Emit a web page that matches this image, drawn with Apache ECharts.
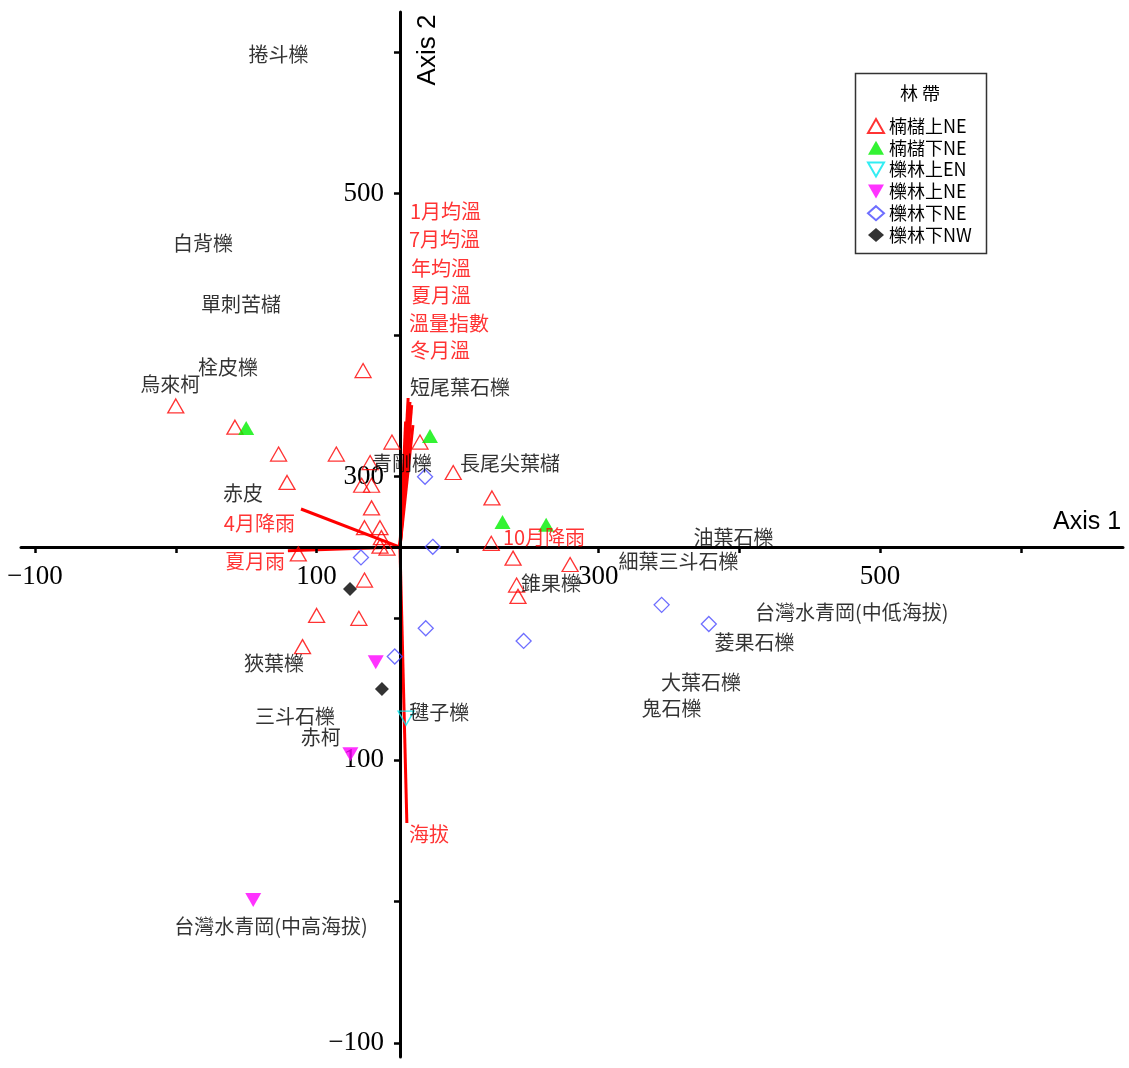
<!DOCTYPE html>
<html>
<head>
<meta charset="utf-8">
<script src="https://cdn.jsdelivr.net/npm/echarts@6/dist/echarts.min.js"></script>
<style>
  html, body { margin: 0; padding: 0; background: #fff; }
  #chart { width: 1129px; height: 1068px; }
</style>
</head>
<body>
<div id="chart"></div>
<script>
// ---- Axes ----
const xRange = [-109.9, 672.6];
const yRange = [-109.9, 628.3];
const xTicks = [-100, 0, 100, 200, 300, 400, 500, 600];
const xTickLabels = [-100, 100, 300, 500];
const yTicks = [-100, 0, 100, 200, 300, 400, 500, 600];
const yTickLabels = [-100, 100, 300, 500];
// point where the two axes cross (centroid of the ordination)
const centroid = [159.2, 250.3];

// ---- Plot scores by forest zone (Axis 1, Axis 2) ----
const zoneNames = ['楠櫧上NE', '楠櫧下NE', '櫟林上EN', '櫟林上NE', '櫟林下NE', '櫟林下NW'];
const nanZhuUpperNE = [
  [0, 350], [42, 335], [73, 316], [79, 296], [114, 316], [133, 375],
  [153.5, 324.5], [173.4, 324.5], [138, 310], [132, 294], [139, 294], [139, 278],
  [134, 264], [145, 264], [146, 257], [145, 251], [150, 249.6], [197, 303],
  [224.5, 285], [224, 253], [239.5, 242.5], [280, 238], [242, 223.5], [243, 215.5],
  [87, 245.5], [134, 227], [100, 202], [130, 200], [90, 180]
];
const nanZhuLowerNE = [[50, 334.5], [180.5, 328.7], [232, 268], [263, 266]];
const liLinUpperEN = [[163.5, 129.5]];
const liLinUpperNE = [[142, 169], [124, 104], [55, 1]];
const liLinLowerNE = [
  [177, 300], [182.5, 250.5], [131.5, 243], [177.5, 193],
  [247, 184], [155.5, 173], [345, 209.5], [378.5, 196]
];
const liLinLowerNW = [[123.7, 220.7], [146.4, 150]];

// ---- Species scores ----
const speciesNames = [
  '捲斗櫟', '白背櫟', '單刺苦櫧', '栓皮櫟', '烏來柯', '短尾葉石櫟', '青剛櫟',
  '長尾尖葉櫧', '赤皮', '油葉石櫟', '細葉三斗石櫟', '錐果櫟', '台灣水青岡(中低海拔)',
  '菱果石櫟', '狹葉櫟', '大葉石櫟', '鬼石櫟', '三斗石櫟', '毽子櫟', '赤柯',
  '台灣水青岡(中高海拔)'
];
const speciesScores = [
  [73, 598.6], [19.3, 465], [46.3, 422], [37, 377.5], [-4, 365], [201.8, 363], [160.6, 309.7],
  [237.3, 309.7], [47.7, 288.5], [396, 257.4], [357, 240], [266.4, 225], [480, 204.4],
  [411, 183.2], [69.7, 168.4], [373, 155], [352, 136.6], [84.6, 131], [187, 133.8], [103, 116],
  [67.6, -18]
];

// ---- Environmental variables (biplot vectors) ----
const envNames = ['1月均溫', '7月均溫', '年均溫', '夏月溫', '溫量指數', '冬月溫', '4月降雨', '夏月雨', '10月降雨', '海拔'];
const envTips = [
  [165, 355.6], [166.8, 345.7], [168.4, 336.5], [167.5, 350.6], [166.3, 352.8], [163.2, 339],
  [88.9, 277.2], [79.6, 247.8], [230.2, 250.3], [164.1, 55.4]
];
const envLabelAt = [
  [166.3, 487.7], [165.6, 467.9], [167, 447.4], [167, 428.4], [165.6, 408.6], [166.3, 389.5],
  [84.6, 267.3], [77.5, 240.4], [232.3, 257.4], [165.6, 47.6]
];
const envLabelSide = ['right', 'right', 'right', 'right', 'right', 'right', 'left', 'left', 'right', 'right'];

const CJK = '"Noto Sans CJK TC", "Noto Sans CJK SC", sans-serif';
const RED = '#ff0000';

// grid geometry (pixels)
const W = 1129, H = 1068;
const G = { left: 21, right: 6, top: 12, bottom: 11 };
const gw = W - G.left - G.right, gh = H - G.top - G.bottom;
const crossX = G.left + (centroid[0] - xRange[0]) / (xRange[1] - xRange[0]) * gw;
const crossY = G.top + (yRange[1] - centroid[1]) / (yRange[1] - yRange[0]) * gh;

const DOWN_TRIANGLE = 'path://M0,0L16,0L8,14Z';
const zoneStyles = [
  { symbol: 'triangle', size: [16, 14], rotate: 0, item: { color: 'rgba(255,255,255,0)', borderColor: '#ff0000', borderWidth: 1.3 } },
  { symbol: 'triangle', size: [16, 14], rotate: 0, item: { color: '#00f000' } },
  { symbol: DOWN_TRIANGLE, size: [16, 14], rotate: 0, item: { color: 'rgba(255,255,255,0)', borderColor: '#00e8f0', borderWidth: 1.3 } },
  { symbol: DOWN_TRIANGLE, size: [16, 14], rotate: 0, item: { color: '#ff00ff' } },
  { symbol: 'diamond', size: [15, 15], rotate: 0, item: { color: 'rgba(255,255,255,0)', borderColor: '#4a4aff', borderWidth: 1.3 } },
  { symbol: 'diamond', size: [14, 14], rotate: 0, item: { color: '#000' } }
];
const zoneData = [nanZhuUpperNE, nanZhuLowerNE, liLinUpperEN, liLinUpperNE, liLinLowerNE, liLinLowerNW];

const zoneSeries = zoneNames.map((name, i) => ({
  name: name,
  type: 'scatter',
  z: 3,
  symbol: zoneStyles[i].symbol,
  symbolSize: zoneStyles[i].size,
  symbolRotate: zoneStyles[i].rotate,
  itemStyle: zoneStyles[i].item,
  data: zoneData[i],
  silent: true
}));

const chart = echarts.init(document.getElementById('chart'), null, { renderer: 'canvas' });

const tickFormat = v => String(v).replace('-', '\u2212');

const option = {
  animation: false,
  backgroundColor: '#fff',
  grid: {
    left: G.left, right: G.right, top: G.top, bottom: G.bottom,
    containLabel: false, outerBoundsMode: 'none'
  },
  xAxis: {
    type: 'value', min: xRange[0], max: xRange[1], position: 'bottom',
    offset: -(H - G.bottom - crossY), z: 2,
    axisLine: { show: true, onZero: false, lineStyle: { color: '#000', width: 3 } },
    axisTick: { show: true, customValues: xTicks, length: 6, lineStyle: { color: '#000', width: 2.5 } },
    axisLabel: {
      show: true, customValues: xTickLabels, margin: 16, color: '#000', fontSize: 27,
      fontFamily: '"Liberation Serif", serif', formatter: tickFormat
    },
    splitLine: { show: false }
  },
  yAxis: {
    type: 'value', min: yRange[0], max: yRange[1], position: 'left',
    offset: -(crossX - G.left), z: 2,
    axisLine: { show: true, onZero: false, lineStyle: { color: '#000', width: 3 } },
    axisTick: { show: true, customValues: yTicks, length: 6, lineStyle: { color: '#000', width: 2.5 } },
    axisLabel: {
      show: true, customValues: yTickLabels, margin: 16, color: '#000', fontSize: 27,
      fontFamily: '"Liberation Serif", serif', formatter: tickFormat
    },
    splitLine: { show: false }
  },
  legend: {
    data: zoneNames,
    orient: 'vertical',
    left: 867, top: 117,
    padding: 0,
    itemWidth: 16, itemHeight: 14, itemGap: 3.8,
    textStyle: { fontFamily: CJK, fontSize: 18, color: '#000' },
    selectedMode: false,
    z: 6
  },
  graphic: [
    { type: 'rect', shape: { x: 855.5, y: 73.5, width: 131, height: 180 },
      style: { fill: 'rgba(0,0,0,0)', stroke: '#333', lineWidth: 1.5 }, z: 1 },
    { type: 'text', x: 920, y: 93, z: 6,
      style: { text: '林 帶', font: '18px ' + CJK, fill: '#000', align: 'center', verticalAlign: 'middle' } },
    { type: 'text', x: 1053, y: 522, z: 6,
      style: { text: 'Axis 1', font: '25px "Liberation Sans", Arial, sans-serif', fill: '#000', align: 'left', verticalAlign: 'middle' } },
    { type: 'text', x: 428, y: 50, rotation: Math.PI / 2, z: 6,
      style: { text: 'Axis 2', font: '26px "Liberation Sans", Arial, sans-serif', fill: '#000', align: 'center', verticalAlign: 'middle' } }
  ],
  series: [
    {
      name: 'vectors',
      type: 'lines',
      coordinateSystem: 'cartesian2d',
      z: 1,
      silent: true,
      lineStyle: { color: RED, width: 3, opacity: 1 },
      data: envTips.map(t => ({ coords: [centroid, t] }))
    },
    {
      name: 'envLabels',
      type: 'scatter',
      z: 4,
      silent: true,
      symbolSize: 0,
      data: envNames.map((n, i) => ({
        name: n, value: envLabelAt[i],
        label: { position: envLabelSide[i] }
      })),
      label: {
        show: true, distance: 0, color: RED, fontSize: 20, fontFamily: CJK,
        formatter: p => p.name
      }
    },
    {
      name: 'species',
      type: 'scatter',
      z: 4,
      silent: true,
      symbolSize: 0,
      data: speciesNames.map((n, i) => ({ name: n, value: speciesScores[i] })),
      label: {
        show: true, position: 'inside', color: '#000', fontSize: 20, fontFamily: CJK,
        formatter: p => p.name
      }
    }
  ].concat(zoneSeries)
};

chart.setOption(option);
</script>
</body>
</html>
